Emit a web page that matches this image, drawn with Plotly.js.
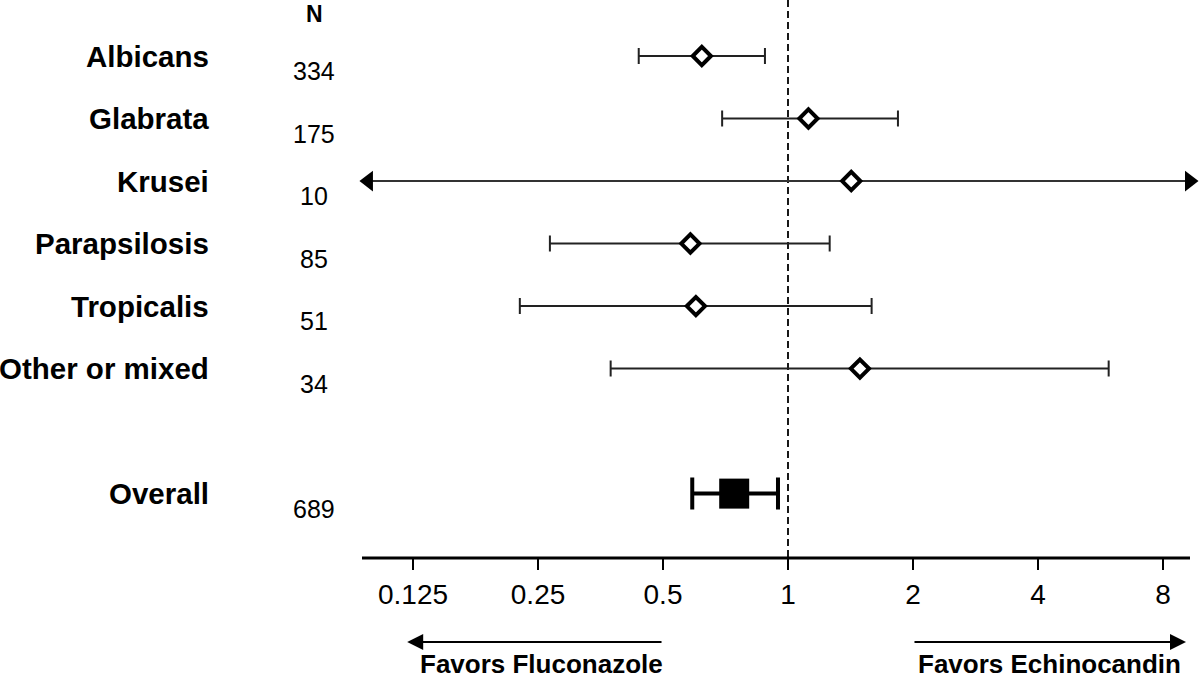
<!DOCTYPE html>
<html>
<head>
<meta charset="utf-8">
<script src="https://cdn.plot.ly/plotly-3.0.1.min.js"></script>
<style>html,body{margin:0;padding:0;background:#fff;}#chart{width:1200px;height:679px;}</style>
</head>
<body>
<div id="chart"></div>
<script>
// ---- data ----
const species = ["Albicans", "Glabrata", "Krusei", "Parapsilosis", "Tropicalis", "Other or mixed"];
const nValues = ["334", "175", "10", "85", "51", "34"];
const estimate = [0.62, 1.12, 1.42, 0.582, 0.60, 1.49];
const ciLower = [0.437, 0.694, null, 0.267, 0.226, 0.374];
const ciUpper = [0.88, 1.84, null, 1.26, 1.59, 5.92];
// Krusei CI runs off both ends of the axis (arrow ends)
const kruseiArrowEnds = [0.0976, 9.27];

const overallLabel = "Overall";
const overallN = "689";
const overallEstimate = 0.742;
const overallLower = 0.588;
const overallUpper = 0.946;

const tickValues = [0.125, 0.25, 0.5, 1, 2, 4, 8];
const tickLabels = ["0.125", "0.25", "0.5", "1", "2", "4", "8"];

const leftArrow = {from: 0.5, to: 0.121, text: "Favors Fluconazole", textX: 541};
const rightArrow = {from: 2, to: 9.09, text: "Favors Echinocandin", textX: 1049};

// ---- layout helpers ----
const rowPos = species.map((_, i) => i);
const overallPos = species.length + 1;
const yTop = -0.896, yBottom = 8.03;
const FONT = "Liberation Sans, Arial, sans-serif";

const regIdx = species.map((_, i) => i).filter(i => ciLower[i] !== null);

const traces = [];
// reference line at 1
traces.push({
  x: [1, 1], y: [yTop, yBottom], mode: "lines", type: "scatter",
  line: {color: "#000", width: 1.8, dash: "7px,4px"}, hoverinfo: "skip", showlegend: false
});
// Krusei arrow line
const kIdx = species.indexOf("Krusei");
traces.push({
  x: kruseiArrowEnds, y: [rowPos[kIdx], rowPos[kIdx]], mode: "lines+markers", type: "scatter",
  line: {color: "#333", width: 2},
  marker: {symbol: ["triangle-left", "triangle-right"], size: 18, color: "#000", line: {width: 0}},
  cliponaxis: false, showlegend: false, hoverinfo: "skip"
});
// species estimates with CI
traces.push({
  x: regIdx.map(i => estimate[i]),
  y: regIdx.map(i => rowPos[i]),
  mode: "markers", type: "scatter",
  error_x: {
    type: "data", symmetric: false,
    array: regIdx.map(i => ciUpper[i] - estimate[i]),
    arrayminus: regIdx.map(i => estimate[i] - ciLower[i]),
    color: "#222", thickness: 2, width: 8
  },
  marker: {symbol: "diamond", size: 14, color: "#fff", line: {color: "#000", width: 4}},
  showlegend: false, cliponaxis: false
});
// Krusei point
traces.push({
  x: [estimate[kIdx]], y: [rowPos[kIdx]], mode: "markers", type: "scatter",
  marker: {symbol: "diamond", size: 14, color: "#fff", line: {color: "#000", width: 4}},
  showlegend: false, cliponaxis: false
});
// overall
traces.push({
  x: [overallEstimate], y: [overallPos], mode: "markers", type: "scatter",
  error_x: {
    type: "data", symmetric: false,
    array: [overallUpper - overallEstimate],
    arrayminus: [overallEstimate - overallLower],
    color: "#000", thickness: 4, width: 16
  },
  marker: {symbol: "square", size: 30, color: "#000"},
  showlegend: false, cliponaxis: false
});

const labelX = (211 - 355) / 845;
const nX = (314 - 355) / 845;
const annotations = [];
const labelFont = {family: FONT, size: 29.5, color: "#000", weight: "bold"};
const nFont = {family: FONT, size: 25, color: "#000"};
species.forEach((s, i) => {
  annotations.push({xref: "paper", yref: "y", x: labelX, y: rowPos[i], text: s, showarrow: false,
    xanchor: "right", yanchor: "middle", font: labelFont});
  annotations.push({xref: "paper", yref: "y", x: nX, y: rowPos[i] + 0.24, text: nValues[i], showarrow: false,
    xanchor: "center", yanchor: "middle", font: nFont});
});
annotations.push({xref: "paper", yref: "y", x: labelX, y: overallPos, text: overallLabel, showarrow: false,
  xanchor: "right", yanchor: "middle", font: labelFont});
annotations.push({xref: "paper", yref: "y", x: nX, y: overallPos + 0.24, text: overallN, showarrow: false,
  xanchor: "center", yanchor: "middle", font: nFont});
annotations.push({xref: "paper", yref: "paper", x: nX, y: (558 - 14) / 558, text: "N", showarrow: false,
  xanchor: "center", yanchor: "middle", font: {family: FONT, size: 23, color: "#000", weight: "bold"}});

// favours arrows
const arrowY = (558 - 642) / 558;
const textY = (558 - 664) / 558;
[leftArrow, rightArrow].forEach(a => {
  annotations.push({xref: "x", yref: "paper", x: Math.log10(a.to), y: arrowY,
    axref: "x", ayref: "pixel", ax: Math.log10(a.from), ay: 0, text: "", showarrow: true,
    arrowhead: 2, arrowsize: 1.6, arrowwidth: 2, arrowcolor: "#000"});
  annotations.push({xref: "paper", yref: "paper", x: (a.textX - 355) / 845, y: textY,
    text: a.text, showarrow: false, xanchor: "center", yanchor: "middle",
    font: {family: FONT, size: 26, color: "#000", weight: "bold"}});
});

const layout = {
  width: 1200, height: 679,
  margin: {l: 355, r: 0, t: 0, b: 121, pad: 0},
  paper_bgcolor: "#fff", plot_bgcolor: "#fff",
  xaxis: {
    type: "log", range: [-1.0429, 0.9923], showgrid: false, zeroline: false, showline: false,
    tickmode: "array", tickvals: tickValues, ticktext: tickLabels,
    ticks: "outside", ticklen: 11, tickwidth: 2.5, tickcolor: "#000",
    tickfont: {family: FONT, size: 28, color: "#000"}, fixedrange: true
  },
  yaxis: {range: [yBottom, yTop], visible: false, fixedrange: true},
  shapes: [{type: "line", xref: "paper", yref: "paper", x0: (362 - 355) / 845, x1: (1190 - 355) / 845,
    y0: 0, y1: 0, line: {color: "#000", width: 3}}],
  annotations: annotations,
  showlegend: false
};

Plotly.newPlot("chart", traces, layout, {staticPlot: true, displayModeBar: false});
</script>
</body>
</html>
